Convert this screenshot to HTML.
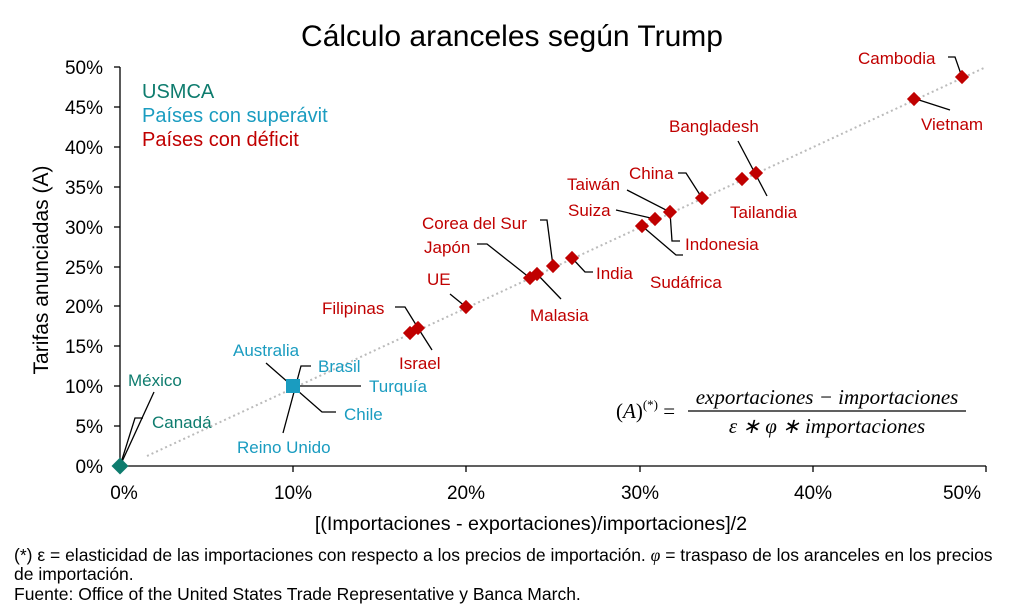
<!DOCTYPE html>
<html><head><meta charset="utf-8"><style>
body{margin:0;background:#fff}
svg{display:block;font-family:"Liberation Sans",Arial,sans-serif}
.r{fill:#c00000}.b{fill:#1a9cc0}.g{fill:#0e7c6e}
.l{stroke:#000;stroke-width:1.3;fill:none}
</style></head><body>
<svg width="1024" height="614" viewBox="0 0 1024 614">
<text x="512" y="46" text-anchor="middle" font-size="30">Cálculo aranceles según Trump</text>
<g stroke="#000" stroke-width="1.3">
<line x1="120" y1="466" x2="986" y2="466"/>
<line x1="120" y1="67" x2="120" y2="466"/>
<line x1="114" y1="67" x2="120" y2="67"/><line x1="114" y1="107" x2="120" y2="107"/><line x1="114" y1="147" x2="120" y2="147"/><line x1="114" y1="187" x2="120" y2="187"/><line x1="114" y1="227" x2="120" y2="227"/><line x1="114" y1="267" x2="120" y2="267"/><line x1="114" y1="306" x2="120" y2="306"/><line x1="114" y1="346" x2="120" y2="346"/><line x1="114" y1="386" x2="120" y2="386"/><line x1="114" y1="426" x2="120" y2="426"/><line x1="114" y1="466" x2="120" y2="466"/>
<line x1="120" y1="466" x2="120" y2="472"/><line x1="293" y1="466" x2="293" y2="472"/><line x1="466" y1="466" x2="466" y2="472"/><line x1="640" y1="466" x2="640" y2="472"/><line x1="813" y1="466" x2="813" y2="472"/><line x1="986" y1="466" x2="986" y2="472"/>
</g>
<g font-size="19" text-anchor="end">
<text x="103" y="74">50%</text><text x="103" y="114">45%</text><text x="103" y="154">40%</text><text x="103" y="194">35%</text><text x="103" y="234">30%</text><text x="103" y="274">25%</text><text x="103" y="313">20%</text><text x="103" y="353">15%</text><text x="103" y="393">10%</text><text x="103" y="433">5%</text><text x="103" y="473">0%</text>
</g>
<g font-size="19" text-anchor="middle">
<text x="124" y="499">0%</text><text x="293" y="499">10%</text><text x="466" y="499">20%</text><text x="640" y="499">30%</text><text x="813" y="499">40%</text><text x="962" y="499">50%</text>
</g>
<text x="531" y="530" font-size="19.7" text-anchor="middle">[(Importaciones - exportaciones)/importaciones]/2</text>
<text transform="translate(48,270) rotate(-90)" font-size="21" text-anchor="middle">Tarifas anunciadas (A)</text>
<line x1="147" y1="456" x2="986" y2="67" stroke="#bbb" stroke-width="2" stroke-dasharray="2,3"/>
<text x="142" y="98" font-size="20" class="g">USMCA</text>
<text x="142" y="122" font-size="20" class="b">Países con superávit</text>
<text x="142" y="146" font-size="20" class="r">Países con déficit</text>
<g class="l">
<polyline points="120,466 154,392"/><polyline points="120,466 135,418 143,418"/>
<polyline points="266,363 322,412 336,412"/><polyline points="283,433 301,366 311,366"/><polyline points="293,386 361,386"/>
<polyline points="395,307 405,307 418,328"/><polyline points="418,328 432,350"/>
<polyline points="450,294 466,307"/>
<polyline points="477,244 487,244 530,278"/><polyline points="537,274 561,299"/>
<polyline points="540,220 547,220 553,266"/><polyline points="572,258 585,272 593,272"/>
<polyline points="616,210 655,219"/><polyline points="627,190 670,212 672,241 680,241"/>
<polyline points="642,226 676,255 683,255"/>
<polyline points="678,173 686,173 702,198"/><polyline points="738,141 767,196"/>
<polyline points="919,100 950,110"/><polyline points="948,57 955,57 962,77"/>
</g>
<rect x="114" y="460" width="12" height="12" transform="rotate(45 120 466)" fill="#0e7c6e"/>
<rect x="286" y="379" width="14" height="14" fill="#1a9cc0"/>
<g fill="#c00000">
<rect x="405" y="328" width="10" height="10" transform="rotate(45 410 333)"/>
<rect x="413" y="323" width="10" height="10" transform="rotate(45 418 328)"/>
<rect x="461" y="302" width="10" height="10" transform="rotate(45 466 307)"/>
<rect x="525" y="273" width="10" height="10" transform="rotate(45 530 278)"/>
<rect x="532" y="269" width="10" height="10" transform="rotate(45 537 274)"/>
<rect x="548" y="261" width="10" height="10" transform="rotate(45 553 266)"/>
<rect x="567" y="253" width="10" height="10" transform="rotate(45 572 258)"/>
<rect x="637" y="221" width="10" height="10" transform="rotate(45 642 226)"/>
<rect x="650" y="214" width="10" height="10" transform="rotate(45 655 219)"/>
<rect x="665" y="207" width="10" height="10" transform="rotate(45 670 212)"/>
<rect x="697" y="193" width="10" height="10" transform="rotate(45 702 198)"/>
<rect x="737" y="174" width="10" height="10" transform="rotate(45 742 179)"/>
<rect x="751" y="168" width="10" height="10" transform="rotate(45 756 173)"/>
<rect x="909" y="94" width="10" height="10" transform="rotate(45 914 99)"/>
<rect x="957" y="72" width="10" height="10" transform="rotate(45 962 77)"/>
</g>
<g font-size="17">
<text x="128" y="386" class="g">México</text><text x="152" y="428" class="g">Canadá</text>
<text x="233" y="356" class="b">Australia</text><text x="318" y="372" class="b">Brasil</text><text x="369" y="392" class="b">Turquía</text><text x="344" y="420" class="b">Chile</text><text x="237" y="453" class="b">Reino Unido</text>
<text x="322" y="314" class="r">Filipinas</text><text x="399" y="369" class="r">Israel</text><text x="427" y="285" class="r">UE</text>
<text x="422" y="229" class="r">Corea del Sur</text><text x="424" y="253" class="r">Japón</text><text x="530" y="321" class="r">Malasia</text>
<text x="596" y="279" class="r">India</text><text x="650" y="288" class="r">Sudáfrica</text><text x="568" y="216" class="r">Suiza</text>
<text x="567" y="190" class="r">Taiwán</text><text x="629" y="179" class="r">China</text><text x="685" y="250" class="r">Indonesia</text>
<text x="730" y="218" class="r">Tailandia</text><text x="669" y="132" class="r">Bangladesh</text>
<text x="921" y="130" class="r">Vietnam</text><text x="858" y="64" class="r">Cambodia</text>
</g>
<g font-family="'Liberation Serif',serif" font-style="italic" font-size="21">
<text x="616" y="418"><tspan font-style="normal">(</tspan>A<tspan font-style="normal">)</tspan><tspan font-size="13" dy="-9" font-style="normal">(*)</tspan><tspan dy="9" font-style="normal"> =</tspan></text>
<text x="827" y="404" text-anchor="middle">exportaciones  − importaciones</text>
<line x1="688" y1="411" x2="966" y2="411" stroke="#000" stroke-width="1.2"/>
<text x="827" y="433" text-anchor="middle">ε ∗ φ ∗ importaciones</text>
</g>
<g font-size="17.5">
<text x="14" y="561">(*) ε = elasticidad de las importaciones con respecto a los precios de importación. <tspan font-family="'Liberation Serif',serif" font-style="italic">φ</tspan> = traspaso de los aranceles en los precios</text>
<text x="14" y="580">de importación.</text>
<text x="14" y="600">Fuente: Office of the United States Trade Representative y Banca March.</text>
</g>
</svg>
</body></html>
